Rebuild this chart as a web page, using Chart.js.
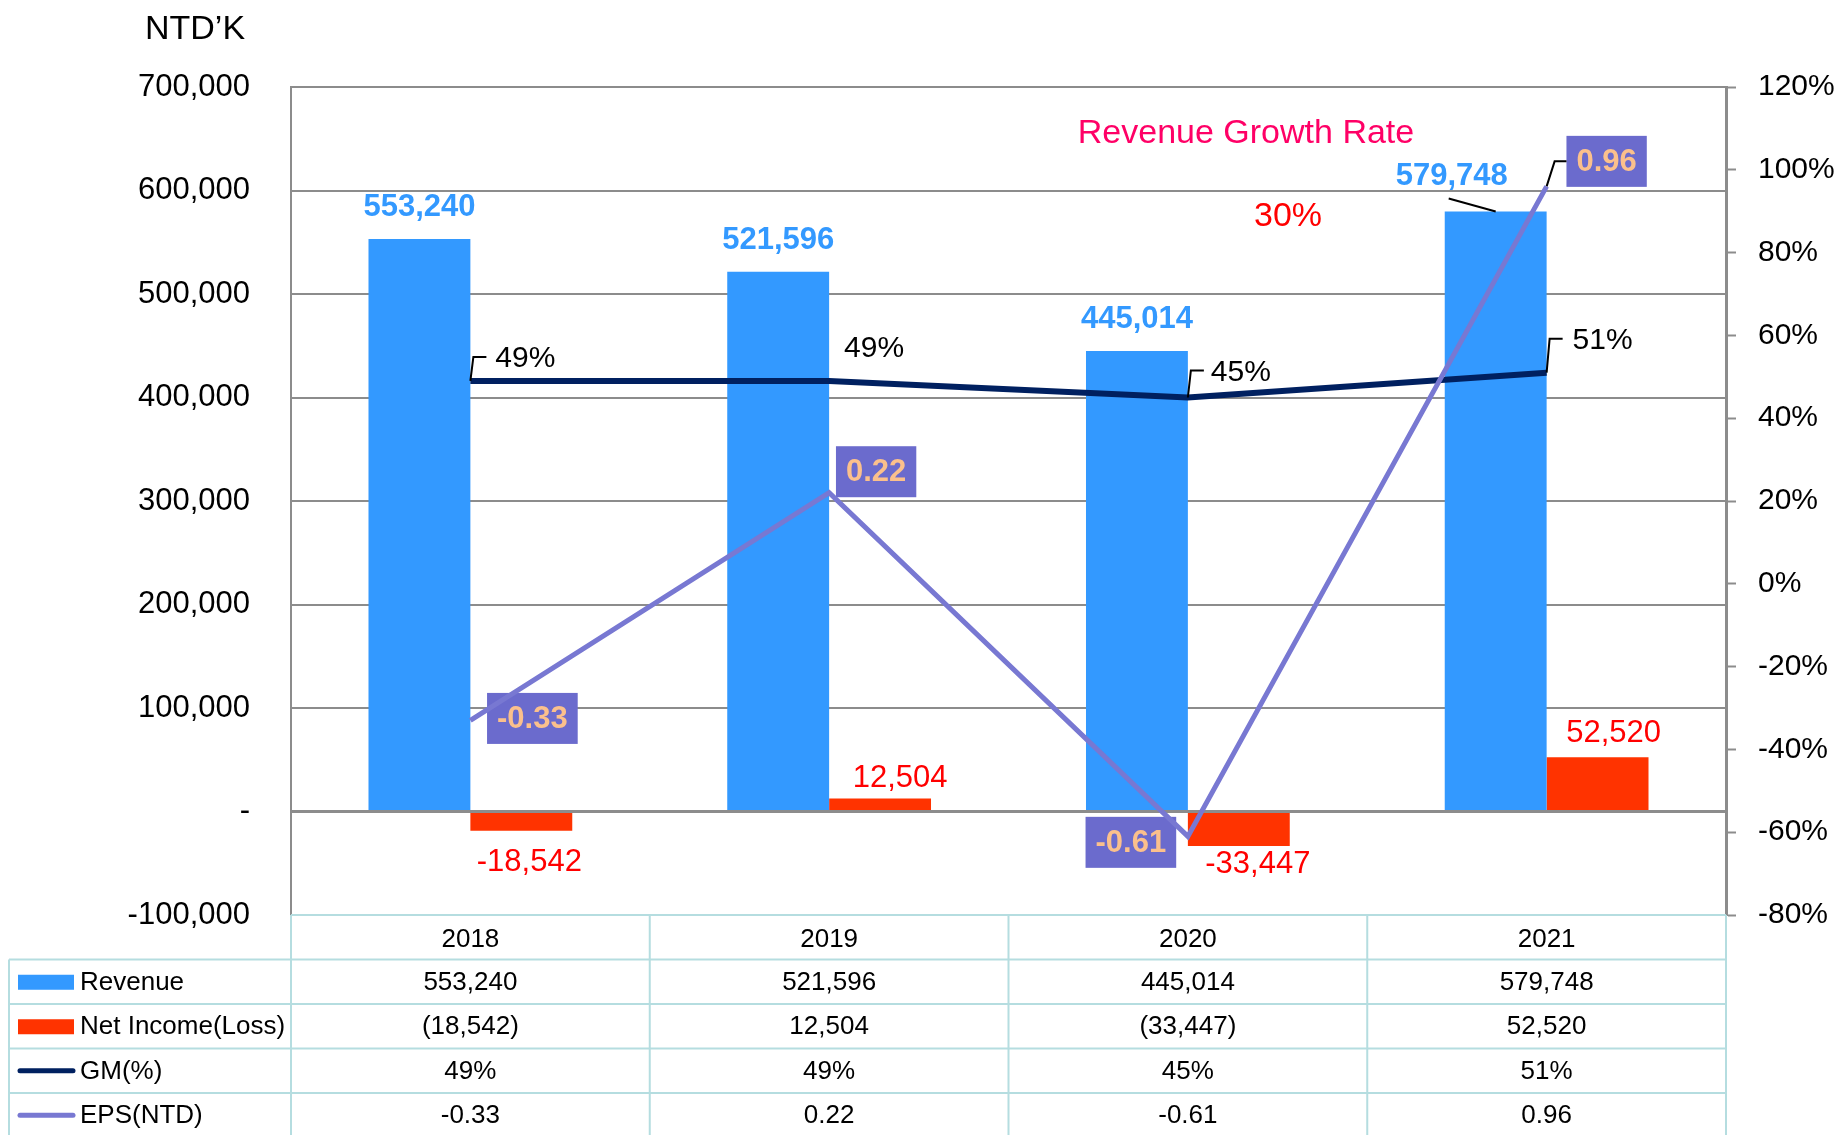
<!DOCTYPE html>
<html>
<head>
<meta charset="utf-8">
<title>Revenue / Net Income / GM / EPS</title>
<script src="https://cdn.jsdelivr.net/npm/chart.js@4.4.1/dist/chart.umd.min.js"></script>
<style>
    html, body { margin: 0; padding: 0; background: #fff; }
    #wrap { position: relative; width: 1839px; height: 1135px; }
</style>
</head>
<body>
<div id="wrap"><canvas id="finChart"></canvas></div>
<script>
// ---- data ----
const years = ['2018', '2019', '2020', '2021'];
const revenue = [553240, 521596, 445014, 579748];
const netIncome = [-18542, 12504, -33447, 52520];
const grossMargin = [0.49, 0.49, 0.45, 0.51];
const eps = [-0.33, 0.22, -0.61, 0.96];
const rowNames = ['Revenue', 'Net Income(Loss)', 'GM(%)', 'EPS(NTD)'];
const leftAxis = { min: -100000, max: 700000, step: 100000 };
const rightAxis = { min: -0.8, max: 1.2, step: 0.2 };
const unitText = 'NTD\u2019K';
const growthTitle = 'Revenue Growth Rate';
const growthValue = '30%';

// label placement (pixel offsets from each mark), not data
const revLabelPos = [[0, -31, false], [0, -31, false], [0, -31, false], [-44, -35, true]];
const niLabelPos = [[8, 32], [20, -20], [19, 18], [16, -24]];
const gmLabelPos = [[55, -22, true], [45, -32, false], [53, -25, true], [56, -32, true]];
const epsBoxPos = [[62, -2, false], [47, -21, false], [-57, 6, false], [60, -25, true]];

const FONT = '"Liberation Sans", Arial, sans-serif';
const COLORS = {
    revenue: '#3399ff',
    netIncome: '#ff3300',
    gm: '#002060',
    eps: '#7878d2',
    epsBox: '#6b6bcd',
    epsText: '#fbc08c',
    grid: '#8c8c8c',
    table: '#b5dde0'
};

Chart.defaults.font.family = FONT;

function money(v) {
    return Math.abs(v).toLocaleString('en-US');
}

function pct(v) {
    return Math.round(v * 100) + '%';
}

const epsBoxPlugin = {
    id: 'epsBoxes',
    beforeDatasetDraw(chart, args) {
        if (args.index !== 3) return;
        const ctx = chart.ctx;
        const pts = chart.getDatasetMeta(3).data;
        ctx.save();
        ctx.font = 'bold 31px ' + FONT;
        ctx.textAlign = 'center';
        ctx.textBaseline = 'middle';
        pts.forEach((p, i) => {
            const [dx, dy, lead] = epsBoxPos[i];
            const text = eps[i].toFixed(2);
            const w = ctx.measureText(text).width + 20;
            const h = 51;
            const cx = p.x + dx, cy = p.y + dy;
            ctx.fillStyle = COLORS.epsBox;
            ctx.fillRect(cx - w / 2, cy - h / 2, w, h);
            ctx.fillStyle = COLORS.epsText;
            ctx.fillText(text, cx, cy + 1);
            if (lead) {
                ctx.strokeStyle = '#000';
                ctx.lineWidth = 2;
                ctx.beginPath();
                ctx.moveTo(p.x, p.y);
                ctx.lineTo(p.x + 8, cy);
                ctx.lineTo(cx - w / 2, cy);
                ctx.stroke();
            }
        });
        ctx.restore();
    }
};

const labelPlugin = {
    id: 'valueLabels',
    afterDatasetsDraw(chart) {
        const ctx = chart.ctx;
        const revBars = chart.getDatasetMeta(0).data;
        const niBars = chart.getDatasetMeta(1).data;
        const gmPts = chart.getDatasetMeta(2).data;
        ctx.save();
        ctx.textAlign = 'center';
        ctx.textBaseline = 'middle';

        ctx.font = 'bold 31px ' + FONT;
        ctx.fillStyle = COLORS.revenue;
        revBars.forEach((bar, i) => {
            const [dx, dy, lead] = revLabelPos[i];
            ctx.fillText(revenue[i].toLocaleString('en-US'), bar.x + dx, bar.y + dy);
            if (lead) {
                ctx.strokeStyle = '#000';
                ctx.lineWidth = 2;
                ctx.beginPath();
                ctx.moveTo(bar.x - 47, bar.y - 13);
                ctx.lineTo(bar.x, bar.y);
                ctx.stroke();
            }
        });

        ctx.font = '31px ' + FONT;
        ctx.fillStyle = '#ff0000';
        niBars.forEach((bar, i) => {
            const [dx, dy] = niLabelPos[i];
            const sign = netIncome[i] < 0 ? '-' : '';
            ctx.fillText(sign + money(netIncome[i]), bar.x + dx, bar.y + dy);
        });

        ctx.font = '30px ' + FONT;
        ctx.fillStyle = '#000';
        gmPts.forEach((p, i) => {
            const [dx, dy, lead] = gmLabelPos[i];
            ctx.fillText(pct(grossMargin[i]), p.x + dx, p.y + dy);
            if (lead) {
                ctx.strokeStyle = '#000';
                ctx.lineWidth = 2;
                ctx.beginPath();
                ctx.moveTo(p.x, p.y);
                ctx.lineTo(p.x + 3, p.y + dy - 2);
                ctx.lineTo(p.x + 16, p.y + dy - 2);
                ctx.stroke();
            }
        });
        ctx.restore();
    }
};

const tablePlugin = {
    id: 'dataTable',
    afterDraw(chart) {
        const ctx = chart.ctx;
        const area = chart.chartArea;
        const xs = chart.scales.x;
        const colW = (area.right - area.left) / years.length;
        const rowH = 44.5;
        const top = area.bottom;
        const tableLeft = 9;
        const bottom = chart.height;

        ctx.save();
        ctx.strokeStyle = COLORS.table;
        ctx.lineWidth = 2;
        ctx.beginPath();
        ctx.moveTo(area.left, top);
        ctx.lineTo(area.right, top);
        for (let r = 1; r <= 4; r++) {
            ctx.moveTo(tableLeft, top + r * rowH);
            ctx.lineTo(area.right, top + r * rowH);
        }
        for (let c = 0; c <= years.length; c++) {
            const x = area.left + c * colW;
            ctx.moveTo(x, top);
            ctx.lineTo(x, bottom);
        }
        ctx.moveTo(tableLeft, top + rowH);
        ctx.lineTo(tableLeft, bottom);
        ctx.stroke();

        const rows = [
            revenue.map(v => v.toLocaleString('en-US')),
            netIncome.map(v => v < 0 ? '(' + money(v) + ')' : money(v)),
            grossMargin.map(pct),
            eps.map(v => v.toFixed(2))
        ];

        ctx.font = '26px ' + FONT;
        ctx.fillStyle = '#000';
        ctx.textBaseline = 'middle';
        rows.forEach((vals, r) => {
            const cy = top + (r + 1) * rowH + rowH / 2;
            ctx.textAlign = 'left';
            ctx.fillText(rowNames[r], 80, cy + 1);
            ctx.textAlign = 'center';
            vals.forEach((t, c) => ctx.fillText(t, xs.getPixelForValue(c), cy + 1));
        });

        // legend keys in the first column
        const keyY = r => top + (r + 1) * rowH + rowH / 2;
        ctx.fillStyle = COLORS.revenue;
        ctx.fillRect(18, keyY(0) - 7, 56, 15);
        ctx.fillStyle = COLORS.netIncome;
        ctx.fillRect(18, keyY(1) - 7, 56, 15);
        ctx.lineCap = 'round';
        ctx.lineWidth = 5;
        ctx.strokeStyle = COLORS.gm;
        ctx.beginPath();
        ctx.moveTo(20, keyY(2));
        ctx.lineTo(73, keyY(2));
        ctx.stroke();
        ctx.strokeStyle = COLORS.eps;
        ctx.beginPath();
        ctx.moveTo(20, keyY(3));
        ctx.lineTo(73, keyY(3));
        ctx.stroke();

        // unit and growth annotations
        ctx.textAlign = 'center';
        ctx.font = '34px ' + FONT;
        ctx.fillStyle = '#000';
        ctx.fillText(unitText, 195, 30);
        ctx.fillStyle = '#ff0066';
        ctx.fillText(growthTitle, 1246, 134);
        ctx.fillStyle = '#ff0000';
        ctx.fillText(growthValue, 1288, 217);
        ctx.restore();
    }
};

new Chart(document.getElementById('finChart'), {
    data: {
        labels: years,
        datasets: [
            {
                type: 'bar',
                label: 'Revenue',
                data: revenue,
                yAxisID: 'y',
                backgroundColor: COLORS.revenue,
                categoryPercentage: 0.568,
                barPercentage: 1.0,
                order: 2
            },
            {
                type: 'bar',
                label: 'Net Income(Loss)',
                data: netIncome,
                yAxisID: 'y',
                backgroundColor: COLORS.netIncome,
                categoryPercentage: 0.568,
                barPercentage: 1.0,
                order: 2
            },
            {
                type: 'line',
                label: 'GM(%)',
                data: grossMargin,
                yAxisID: 'y1',
                borderColor: COLORS.gm,
                borderWidth: 6,
                pointRadius: 0,
                tension: 0,
                order: 1
            },
            {
                type: 'line',
                label: 'EPS(NTD)',
                data: eps,
                yAxisID: 'y1',
                borderColor: COLORS.eps,
                borderWidth: 5,
                pointRadius: 0,
                tension: 0,
                order: 0
            }
        ]
    },
    options: {
        responsive: true,
        maintainAspectRatio: false,
        animation: false,
        layout: { padding: { top: 87, left: 0, right: 0, bottom: 0 } },
        plugins: {
            legend: { display: false },
            tooltip: { enabled: false }
        },
        scales: {
            x: {
                offset: true,
                grid: { display: false },
                border: { display: false },
                ticks: { color: '#000', font: { size: 26 }, padding: 1 },
                afterFit: s => { s.height = 220; }
            },
            y: {
                position: 'left',
                min: leftAxis.min,
                max: leftAxis.max,
                ticks: {
                    stepSize: leftAxis.step,
                    color: '#000',
                    font: { size: 31 },
                    padding: 41,
                    callback: v => v === 0 ? '-' : v.toLocaleString('en-US')
                },
                grid: {
                    drawTicks: false,
                    color: c => c.tick && c.tick.value === leftAxis.min ? 'rgba(0,0,0,0)' : COLORS.grid,
                    lineWidth: c => c.tick && c.tick.value === 0 ? 3 : 2
                },
                border: { display: true, color: COLORS.grid, width: 2 },
                afterFit: s => { s.width = 291; }
            },
            y1: {
                position: 'right',
                min: rightAxis.min,
                max: rightAxis.max,
                ticks: {
                    stepSize: rightAxis.step,
                    color: '#000',
                    font: { size: 30 },
                    padding: 22,
                    callback: v => pct(v)
                },
                grid: {
                    drawOnChartArea: false,
                    drawTicks: true,
                    tickLength: 10,
                    tickColor: COLORS.grid,
                    tickWidth: 2
                },
                border: { display: true, color: COLORS.grid, width: 3 },
                afterFit: s => { s.width = 113; }
            }
        }
    },
    plugins: [epsBoxPlugin, labelPlugin, tablePlugin]
});
</script>
</body>
</html>
